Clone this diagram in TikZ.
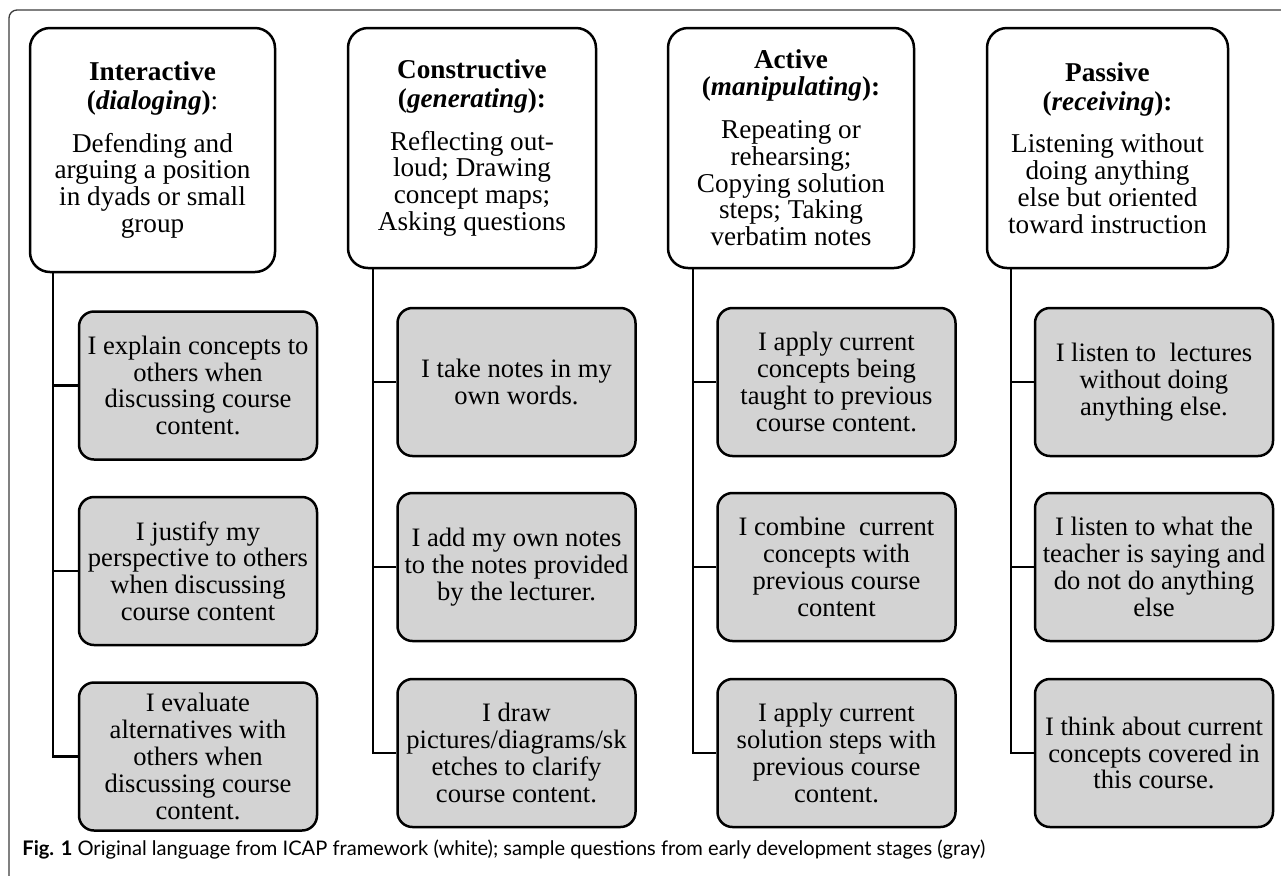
\documentclass[tikz,border=0pt]{standalone}
\usepackage{fontspec}
\setmainfont{Liberation Serif}
\newfontfamily\capfont{Lato}
\definecolor{boxgray}{RGB}{211,211,211}
\definecolor{framegray}{RGB}{60,60,60}
\newcommand{\bi}[1]{{\bfseries\itshape #1}}
\begin{document}
\begin{tikzpicture}[x=0.5pt,y=-0.5pt,
  hdr/.style={draw, line width=1.25pt, rounded corners=10pt, fill=white, align=center, inner sep=0pt, minimum height=120pt, font=\fontsize{13.6}{13.4}\selectfont},
  gbox/.style={draw, line width=1.25pt, rounded corners=7.5pt, fill=boxgray, align=center, inner sep=0pt, minimum width=119pt, minimum height=74pt, font=\fontsize{13.3}{13.4}\selectfont},
  link/.style={line width=1.2pt}]
\useasboundingbox (0,0) rectangle (1281,875);
\begin{scope}
\clip (0,0) rectangle (1281,875);
\draw[framegray, line width=0.65pt, rounded corners=4pt] (9,10) rectangle (1300,884);
\end{scope}

% headers
\node[hdr, minimum width=122.5pt, minimum height=122pt] (h1) at (152.5,150)
  {\textbf{Interactive}\\[1pt]\textbf{(\bi{dialoging})}:\\[8pt]Defending and\\arguing a position\\in dyads or small\\group};
\node[hdr, minimum width=124pt] (h2) at (472,148)
  {\textbf{Constructive}\\[1pt]\textbf{(\bi{generating}):}\\[8pt]Reflecting out-\\loud; Drawing\\concept maps;\\Asking questions};
\node[hdr, minimum width=123pt] (h3) at (791,148)
  {\textbf{Active}\\[0pt]\textbf{(\bi{manipulating}):}\\[8pt]Repeating or\\rehearsing;\\Copying solution\\steps; Taking\\verbatim notes};
\node[hdr, minimum width=120.5pt] (h4) at (1107.5,148)
  {\textbf{Passive}\\[1pt]\textbf{(\bi{receiving}):}\\[8pt]Listening without\\doing anything\\else but oriented\\toward instruction};

% trunk coordinates
\coordinate (v1) at (53,0);
\coordinate (v2) at (373,0);
\coordinate (v3) at (693,0);
\coordinate (v4) at (1011,0);

% column 1
\node[gbox] (g11) at (198,385.5) {I explain concepts to\\others when\\discussing course\\content.};
\node[gbox] (g12) at (198,571) {I justify my\\perspective to others\\when discussing\\course content};
\node[gbox] (g13) at (198,756.5) {I evaluate\\alternatives with\\others when\\discussing course\\content.};
% column 2
\node[gbox] (g21) at (516.5,382) {I take notes in my\\own words.};
\node[gbox] (g22) at (516.5,567) {I add my own notes\\to the notes provided\\by the lecturer.};
\node[gbox] (g23) at (516.5,753) {I draw\\pictures/diagrams/sk\\etches to clarify\\course content.};
% column 3
\node[gbox] (g31) at (836.5,382) {I apply current\\concepts being\\taught to previous\\course content.};
\node[gbox] (g32) at (836.5,567) {I combine\ \ current\\concepts with\\previous course\\content};
\node[gbox] (g33) at (836.5,753) {I apply current\\solution steps with\\previous course\\content.};
% column 4
\node[gbox] (g41) at (1154,382) {I listen to\ \ lectures\\without doing\\anything else.};
\node[gbox] (g42) at (1154,567) {I listen to what the\\teacher is saying and\\do not do anything\\else};
\node[gbox] (g43) at (1154,753) {I think about current\\concepts covered in\\this course.};

% connectors
\foreach \c in {1,2,3,4}{
  \draw[link] (h\c.south -| v\c) |- (g\c3.west);
  \draw[link] (g\c1.west) -- (g\c1.west -| v\c);
  \draw[link] (g\c2.west) -- (g\c2.west -| v\c);
}

% caption
\node[anchor=base west, inner sep=0pt, font=\capfont\fontsize{10.05}{12}\selectfont] (cap) at (22,855)
  {\textbf{Fig. 1} Original language from ICAP framework (white); sample questions from early development stages (gray)};
\end{tikzpicture}
\end{document}
